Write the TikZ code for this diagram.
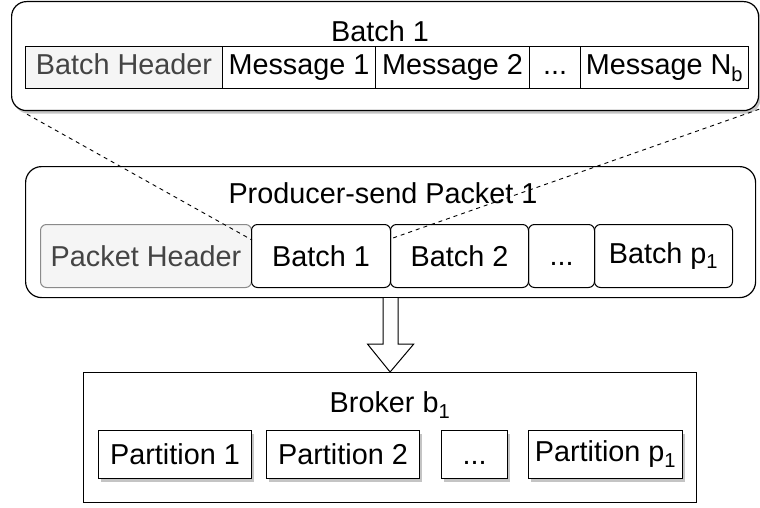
\documentclass[tikz,border=0pt]{standalone}
\usepackage{fontspec}
\setmainfont{Liberation Sans}
\usetikzlibrary{shadows,calc}
\definecolor{hdrfill}{HTML}{F5F5F5}
\definecolor{hdrtext}{HTML}{444444}
\definecolor{hdrline}{HTML}{8A8A8A}
\definecolor{shadowgray}{HTML}{C4C4C4}
\newcommand{\mydots}{\vphantom{1}.\kern0pt.\kern0pt.}
\begin{document}
\begin{tikzpicture}[x=1pt,y=-1pt,
  font=\fontsize{28.8}{34}\selectfont,
  cell/.style={draw, line width=1pt, inner sep=0pt, anchor=north west},
  rowA/.style={cell, minimum height=42pt, text height=21pt, text depth=6pt},
  rowB/.style={cell, rounded corners=6pt, minimum height=63pt},
  rowC/.style={cell, minimum height=48pt, drop shadow={shadow xshift=2pt, shadow yshift=-3pt, fill=shadowgray, opacity=1}},
  hdr/.style={fill=hdrfill, text=hdrtext},
  container/.style={draw, line width=1.2pt, inner sep=0pt, anchor=north west},
  dline/.style={line width=0.9pt, dash pattern=on 4pt off 4pt}]
\useasboundingbox (0,0) rectangle (760,508);

% containers
\node[container, rounded corners=15pt, minimum width=747pt, minimum height=109pt,
      drop shadow={shadow xshift=2pt, shadow yshift=-3pt, fill=shadowgray, opacity=1}, fill=white] (batchbox) at (11,1) {};
\node[container, rounded corners=16pt, minimum width=730pt, minimum height=131pt] (packet) at (25,166) {};
\node[container, minimum width=613pt, minimum height=130pt] (broker) at (83,372) {};

% titles
\node (batchtitle) at (380,31) {Batch 1};
\node (packettitle) at (383,193) {Producer-send Packet 1};
\node (brokertitle) at (390,405) {Broker b\textsubscript{1}};

% batch row
\node[rowA, hdr, minimum width=197pt] (bh) at (25,46) {Batch Header};
\node[rowA, minimum width=153pt] (m1) at (222,46) {Message 1};
\node[rowA, minimum width=154pt] (m2) at (375,46) {Message 2};
\node[rowA, minimum width=51pt] (md) at (529,46) {\mydots};
\node[rowA, minimum width=168pt] (mn) at (580,46) {Message N\textsubscript{b}};

% packet row
\node[rowB, hdr, draw=hdrline, minimum width=211pt] (ph) at (40,224) {Packet Header};
\node[rowB, minimum width=139pt] (b1) at (251,224) {Batch 1};
\node[rowB, minimum width=138pt] (b2) at (390,224) {Batch 2};
\node[rowB, minimum width=66pt] (bd) at (528,224) {\mydots};
\node[rowB, minimum width=138pt] (bp) at (594,224) {Batch p\textsubscript{1}};

% partitions
\node[rowC, fill=white, minimum width=153pt] (p1) at (98,430) {Partition 1};
\node[rowC, fill=white, minimum width=153pt] (p2) at (266,430) {Partition 2};
\node[rowC, fill=white, minimum width=66pt] (pd) at (441,430) {\mydots};
\node[rowC, fill=white, minimum width=154pt] (pp) at (528,430) {Partition p\textsubscript{1}};

% dashed zoom lines
\coordinate (d1) at ($(batchbox.south west)+(16,3)$);
\coordinate (d2) at ($(batchbox.south east)+(0,-2)$);
\coordinate (e1) at ($(b1.north west)+(1,16)$);
\coordinate (e2) at ($(b2.north west)+(3,14)$);
\draw[dline] (d1) -- (e1);
\draw[dline] (d2) -- (e2);

% block arrow
\coordinate (as) at (packet.south);
\coordinate (at) at (broker.north);
\draw[line width=1pt, fill=white, line join=miter]
  ($(as)+(-7.5,0)$) -- ($(as)+(-7.5,46)$) -- ($(as)+(-23,46)$) -- (at)
  -- ($(as)+(23,46)$) -- ($(as)+(7.5,46)$) -- ($(as)+(7.5,0)$);
\end{tikzpicture}
\end{document}
